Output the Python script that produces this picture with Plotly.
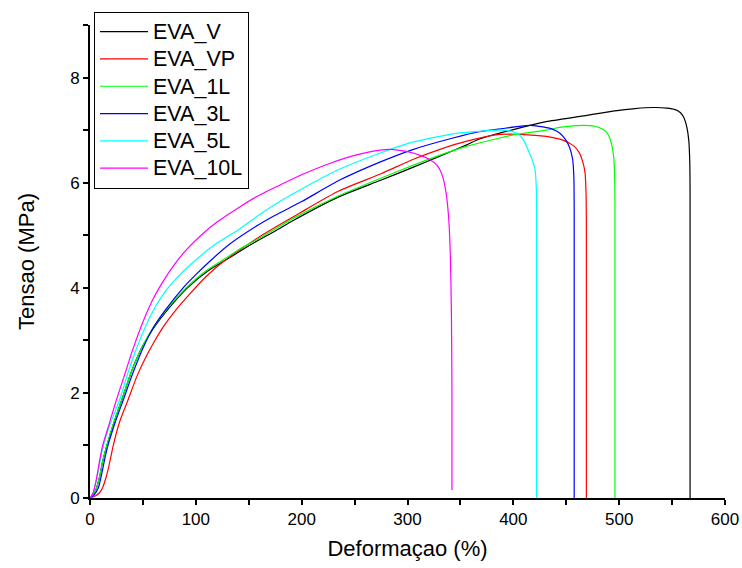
import plotly.graph_objects as go

# ---------------- data ----------------
eva_v_x = [0, 3, 6, 9, 12, 16, 22, 30, 40, 50, 60, 72, 92, 112, 131, 142, 157, 175, 192, 235, 274, 305, 330, 356, 368, 400, 431, 463, 494, 515, 532, 545, 553, 558, 561.5, 564, 565.8, 566.7, 567, 567]
eva_v_y = [0, 0.05, 0.18, 0.4, 0.7, 1.0, 1.4, 1.87, 2.45, 2.9, 3.23, 3.55, 4.0, 4.33, 4.56, 4.7, 4.88, 5.08, 5.28, 5.73, 6.04, 6.29, 6.5, 6.72, 6.83, 7.01, 7.16, 7.26, 7.36, 7.41, 7.43, 7.42, 7.39, 7.33, 7.22, 7.05, 6.8, 6.4, 5.8, 0.0]

eva_vp_x = [0, 5, 9, 12, 15, 18, 22, 28, 36, 44, 52, 60, 70, 82, 95, 110, 126, 140, 157, 175, 198, 235, 275, 305, 330, 356, 387, 406, 431, 448, 457, 462, 465.5, 467.7, 468.7, 469, 469]
eva_vp_y = [0, 0.04, 0.1, 0.2, 0.38, 0.62, 1.0, 1.45, 1.87, 2.3, 2.65, 2.95, 3.28, 3.6, 3.9, 4.22, 4.5, 4.7, 4.93, 5.15, 5.42, 5.84, 6.17, 6.44, 6.63, 6.79, 6.92, 6.92, 6.88, 6.8, 6.7, 6.58, 6.4, 6.2, 5.8, 5.2, 0.0]

eva_1l_x = [0, 3, 6, 9, 12, 16, 22, 30, 40, 50, 60, 72, 91, 110, 129, 140, 157, 175, 192, 235, 274, 305, 330, 356, 387, 400, 431, 447, 465, 475, 482, 487, 490.5, 493, 494.8, 495.6, 496, 496]
eva_1l_y = [0, 0.05, 0.18, 0.4, 0.7, 1.0, 1.4, 1.87, 2.45, 2.9, 3.25, 3.58, 4.0, 4.33, 4.57, 4.72, 4.91, 5.12, 5.32, 5.75, 6.08, 6.33, 6.52, 6.69, 6.85, 6.91, 7.0, 7.06, 7.09, 7.08, 7.04, 6.98, 6.88, 6.72, 6.5, 6.2, 5.6, 0.0]

eva_3l_x = [0, 4, 8, 11, 14, 17, 24, 31.5, 40, 50, 60, 72, 88, 100, 113, 130, 157, 175, 200, 235, 275, 305, 343, 368, 390, 405, 416, 428, 438, 444, 449, 453, 456, 457.2, 457.5, 457.5]
eva_3l_y = [0, 0.06, 0.2, 0.45, 0.75, 1.0, 1.45, 1.87, 2.35, 2.85, 3.25, 3.6, 4.0, 4.25, 4.5, 4.8, 5.17, 5.38, 5.64, 6.04, 6.4, 6.63, 6.85, 6.97, 7.03, 7.07, 7.09, 7.06, 7.01, 6.94, 6.83, 6.68, 6.45, 6.1, 5.5, 0.0]

eva_5l_x = [0, 3, 6, 9, 12, 18, 28, 37, 47, 58, 70, 85, 100, 120, 140, 158, 180, 200, 235, 275, 305, 343, 370, 387, 398, 405, 410, 414, 417.5, 420.5, 421.7, 422, 422]
eva_5l_y = [0, 0.1, 0.35, 0.65, 0.95, 1.35, 1.87, 2.45, 3.0, 3.5, 3.9, 4.25, 4.53, 4.85, 5.1, 5.36, 5.65, 5.88, 6.25, 6.57, 6.77, 6.93, 6.98, 7.0, 6.98, 6.92, 6.8, 6.62, 6.45, 6.25, 5.9, 5.2, 0.0]

eva_10l_x = [0, 3, 6, 9, 12, 18, 25, 32, 40, 50, 60, 70, 80, 91, 105, 120, 140, 158, 180, 200, 227, 250, 274, 287, 300, 312, 321, 328, 333, 336.5, 339, 340.5, 341.5, 342, 342]
eva_10l_y = [0, 0.1, 0.35, 0.7, 1.0, 1.4, 1.87, 2.3, 2.8, 3.35, 3.8, 4.15, 4.45, 4.72, 5.0, 5.25, 5.52, 5.74, 5.96, 6.15, 6.37, 6.52, 6.62, 6.63, 6.59, 6.52, 6.44, 6.33, 6.13, 5.8, 5.3, 4.6, 3.5, 2.0, 0.15]

series_names = ["EVA_V", "EVA_VP", "EVA_1L", "EVA_3L", "EVA_5L", "EVA_10L"]
series_x = [eva_v_x, eva_vp_x, eva_1l_x, eva_3l_x, eva_5l_x, eva_10l_x]
series_y = [eva_v_y, eva_vp_y, eva_1l_y, eva_3l_y, eva_5l_y, eva_10l_y]
series_colors = ["#000000", "#FF0000", "#00FF00", "#0000FF", "#00FFFF", "#FF00FF"]

x_ticks = [0, 100, 200, 300, 400, 500, 600]
y_ticks = [0, 2, 4, 6, 8]

FONT = "Arial, Liberation Sans, sans-serif"

fig = go.Figure()
for name, xs, ys, col in zip(series_names, series_x, series_y, series_colors):
    fig.add_trace(go.Scatter(x=xs, y=ys, mode="lines",
                             name=f"<span style='font-size:21.5px'>{name}</span>",
                             line=dict(color=col, width=1.2, shape="spline", smoothing=0.6)))

axis_common = dict(showline=True, linecolor="black", linewidth=1.6, ticks="outside",
                   ticklen=5, tickwidth=1.6, tickcolor="black", showgrid=False,
                   zeroline=False, mirror=False,
                   tickfont=dict(family=FONT, size=17, color="black"))

fig.update_xaxes(range=[0, 600], tickvals=x_ticks,
                 minor=dict(dtick=50, tick0=0, ticks="outside", ticklen=5, tickwidth=1.6, tickcolor="black"),
                 title=dict(text="Deformaçao (%)", font=dict(family=FONT, size=22, color="black"), standoff=12),
                 **axis_common)
fig.update_yaxes(range=[0, 9], tickvals=y_ticks,
                 minor=dict(dtick=1, tick0=0, ticks="outside", ticklen=5, tickwidth=1.6, tickcolor="black"),
                 title=dict(text="Tensao (MPa)", font=dict(family=FONT, size=22, color="black"), standoff=30),
                 **axis_common)

fig.update_layout(
    width=742, height=568,
    margin=dict(l=90, r=17, t=25, b=70, autoexpand=False),
    paper_bgcolor="white", plot_bgcolor="white",
    showlegend=True,
    legend=dict(x=0.006, y=1.028, xanchor="left", yanchor="top",
                bgcolor="white", bordercolor="black", borderwidth=1.2,
                font=dict(family=FONT, size=18.7, color="black"),
                itemwidth=48, tracegroupgap=0),
)

fig.write_html("out.html")
